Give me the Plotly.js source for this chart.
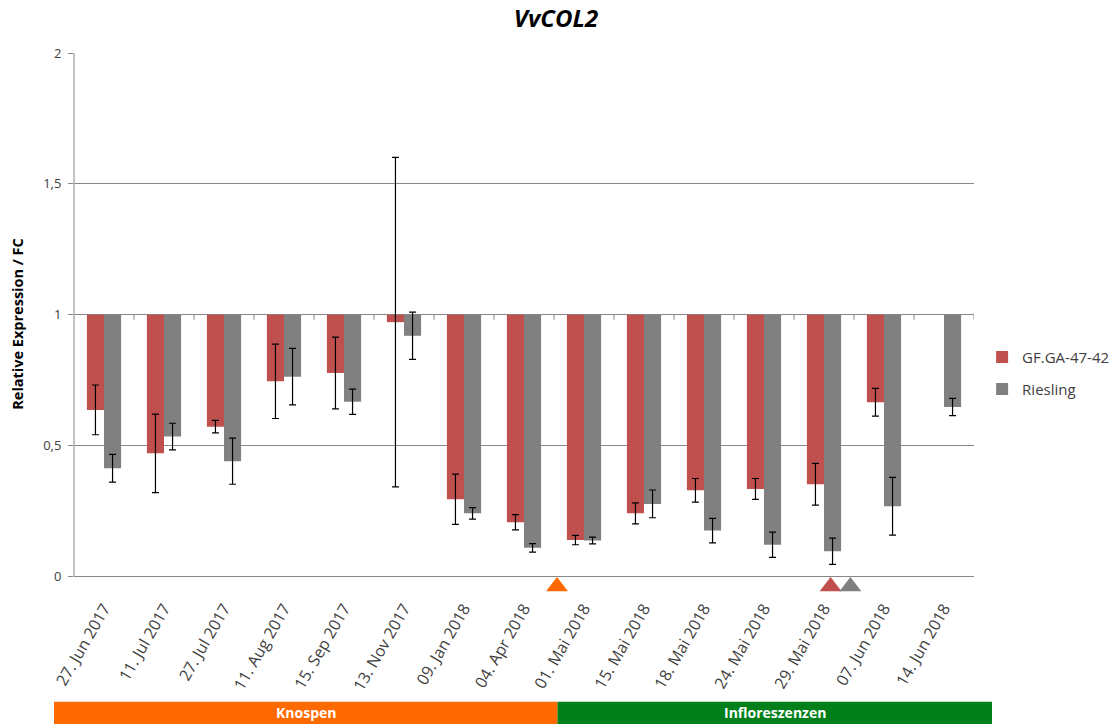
<!DOCTYPE html>
<html>
<head>
<meta charset="utf-8">
<script src="https://cdn.plot.ly/plotly-3.0.1.min.js"></script>
<style>html,body{margin:0;padding:0;background:#fff;}#chart{width:1112px;height:724px;}</style>
</head>
<body>
<div id="chart"></div>
<script>
// ---- data ----
const dates = ["27. Jun 2017","11. Jul 2017","27. Jul 2017","11. Aug 2017","15. Sep 2017","13. Nov 2017","09. Jan 2018","04. Apr 2018","01. Mai 2018","15. Mai 2018","18. Mai 2018","24. Mai 2018","29. Mai 2018","07. Jun 2018","14. Jun 2018"];
const gfValues = [0.637,0.471,0.573,0.746,0.778,0.972,0.296,0.208,0.140,0.242,0.330,0.335,0.353,0.666,null];
const gfErrors = [0.095,0.150,0.024,0.142,0.137,0.629,0.096,0.029,0.018,0.040,0.045,0.040,0.080,0.053,null];
const rieslingValues = [0.414,0.535,0.441,0.764,0.668,0.920,0.242,0.110,0.138,0.278,0.176,0.122,0.097,0.269,0.648];
const rieslingErrors = [0.053,0.051,0.088,0.108,0.048,0.090,0.022,0.016,0.013,0.053,0.047,0.048,0.050,0.110,0.033];
const seriesNames = ["GF.GA-47-42","Riesling"];
const phases = ["Knospen","Infloreszenzen"];
// event markers (category-index positions)
const eventPositions = [7.55, 12.11, 12.44];
const baseline = 1;

// ---- styles ----
const RED = "#C0504D", GRAY = "#808080", GRID = "#878787";
const ORANGE = "#FF6A00", GREEN = "#007F1A";
const eventColors = [ORANGE, RED, GRAY];
const FONT = "Open Sans, sans-serif";
const idx = dates.map((d,i)=>i);
const yMin = -0.07, yMax = 2;

function barTrace(name, vals, errs, color, legendId){
  return {
    type:"bar", name:name, x:idx, y:vals.map(v=>v===null?null:v-baseline), base:baseline,
    marker:{color:color}, legend:legendId,
    error_y:{type:"data", array:errs, visible:true, color:"#000", thickness:1.2, width:3.5},
    hoverinfo:"skip"
  };
}
const traces = [
  barTrace(seriesNames[0], gfValues, gfErrors, RED, "legend"),
  barTrace(seriesNames[1], rieslingValues, rieslingErrors, GRAY, "legend2")
];
eventPositions.forEach((p,i)=>{
  traces.push({type:"scatter", mode:"markers", x:[p], y:[-0.038], cliponaxis:false, showlegend:false,
    marker:{symbol:"triangle-up", size:19, color:eventColors[i], line:{width:0}}, hoverinfo:"skip"});
});

const shapes = [];
// vertical axis line from 0 to 2
shapes.push({type:"line", xref:"paper", yref:"y", x0:0, x1:0, y0:0, y1:yMax, line:{color:GRID, width:1}});
// category-boundary ticks hanging from the 1-line
for(let i=0;i<dates.length;i++){
  shapes.push({type:"line", xref:"x", yref:"y", ysizemode:"pixel", yanchor:1, x0:i+0.5, x1:i+0.5, y0:0, y1:-5,
    line:{color:GRID, width:1}});
}
const bandY0 = -0.2385, bandY1 = -0.1969;
const bandX0 = -0.0222, bandXm = 0.5372, bandX1 = 1.02;
shapes.push({type:"rect", xref:"paper", yref:"paper", x0:bandX0, x1:bandXm, y0:bandY0, y1:bandY1, fillcolor:ORANGE, line:{width:0}});
shapes.push({type:"rect", xref:"paper", yref:"paper", x0:bandXm, x1:bandX1, y0:bandY0, y1:bandY1, fillcolor:GREEN, line:{width:0}});

const annotations = [
  {text:"<b>"+phases[0]+"</b>", xref:"paper", yref:"paper", x:(bandX0+bandXm)/2, y:(bandY0+bandY1)/2, showarrow:false,
   font:{family:FONT, size:14, color:"#fff"}, xanchor:"center", yanchor:"middle"},
  {text:"<b>"+phases[1]+"</b>", xref:"paper", yref:"paper", x:(bandXm+bandX1)/2, y:(bandY0+bandY1)/2, showarrow:false,
   font:{family:FONT, size:14, color:"#fff"}, xanchor:"center", yanchor:"middle"}
];

const layout = {
  width:1112, height:724,
  margin:{l:74, r:138, t:53, b:129.2, pad:0, autoexpand:false},
  paper_bgcolor:"#fff", plot_bgcolor:"#fff",
  separators:",.",
  font:{family:FONT, color:"#404040"},
  title:{text:"<b><i>VvCOL2</i></b>", x:0.5, xref:"container", xanchor:"center", y:0.975, yanchor:"middle",
    font:{family:FONT, size:24, color:"#000"}},
  barmode:"group", bargap:0.43, bargroupgap:0,
  xaxis:{type:"linear", range:[-0.5,14.5], tickmode:"array", tickvals:idx, ticktext:dates, tickangle:-60,
    showgrid:false, zeroline:false, showline:false, ticks:"", ticklabelstandoff:0,
    tickfont:{family:FONT, size:16, color:"#404040"}, fixedrange:true, automargin:false},
  yaxis:{range:[yMin,yMax], tickmode:"array", tickvals:[0,0.5,1,1.5,2], ticktext:["0","0,5","1","1,5","2"],
    showgrid:true, gridcolor:GRID, gridwidth:1,
    zeroline:true, zerolinecolor:GRID, zerolinewidth:1,
    showline:false, ticks:"outside", ticklen:5, tickcolor:GRID,
    ticklabelstandoff:4, tickfont:{family:FONT, size:13, color:"#404040"},
    title:{text:"<b>Relative Expression / FC</b>", font:{family:FONT, size:14.5, color:"#000"}, standoff:16},
    automargin:false, fixedrange:true},
  legend:{x:1.009, xanchor:"left", y:0.419*523.5/541.8 + 18.3/541.8, yanchor:"middle", font:{family:FONT, size:15, color:"#404040"},
    bgcolor:"rgba(0,0,0,0)", itemwidth:30},
  legend2:{x:1.009, xanchor:"left", y:0.358*523.5/541.8 + 18.3/541.8, yanchor:"middle", font:{family:FONT, size:15, color:"#404040"},
    bgcolor:"rgba(0,0,0,0)", itemwidth:30},
  shapes:shapes, annotations:annotations, showlegend:true
};
Plotly.newPlot("chart", traces, layout, {displayModeBar:false, staticPlot:true});
</script>
</body>
</html>
